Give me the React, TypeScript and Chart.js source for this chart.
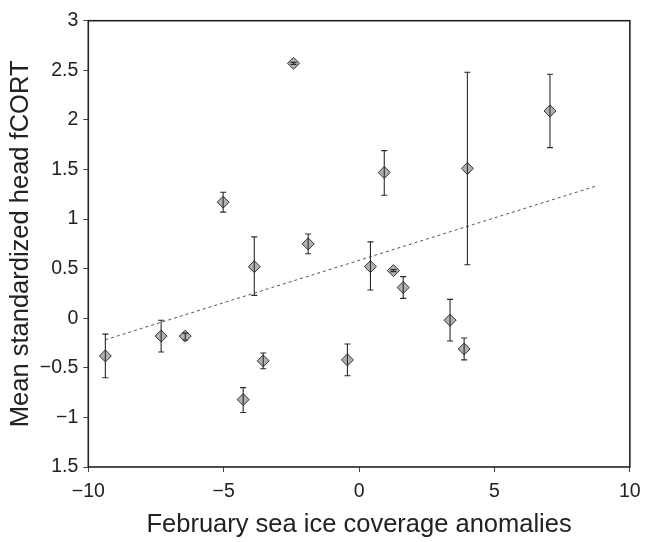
import React, { useEffect, useRef } from "react";
import { Chart, registerables } from "chart.js";

Chart.register(...registerables);

// February sea ice coverage anomalies (x) and mean standardized head fCORT (y)
const iceAnomaly = [-9.37, -7.31, -6.42, -5.02, -4.28, -3.87, -3.54, -2.42, -1.88, -0.43, 0.42, 0.93, 1.27, 1.63, 3.36, 3.88, 4.0, 7.05];
const meanFcort = [-0.38, -0.18, -0.18, 1.17, -0.82, 0.52, -0.43, 2.57, 0.75, -0.42, 0.52, 1.47, 0.48, 0.31, -0.02, -0.31, 1.51, 2.09];
const errHigh = [-0.16, -0.02, -0.15, 1.27, -0.7, 0.82, -0.35, 2.58, 0.85, -0.26, 0.77, 1.69, 0.49, 0.42, 0.19, -0.2, 2.48, 2.46];
const errLow = [-0.6, -0.34, -0.22, 1.07, -0.95, 0.23, -0.51, 2.56, 0.65, -0.58, 0.285, 1.24, 0.47, 0.2, -0.23, -0.42, 0.54, 1.72];

// regression line end points
const trendX = [-9.37, 8.78];
const trendY = [-0.217, 1.335];

const xTickValues = [-10, -5, 0, 5, 10];
const xTickLabels = ["\u221210", "\u22125", "0", "5", "10"];
const yTickValues = [-1.5, -1, -0.5, 0, 0.5, 1, 1.5, 2, 2.5, 3];
const yTickLabels = ["1.5", "\u22121", "\u22120.5", "0", "0.5", "1", "1.5", "2", "2.5", "3"];

const FONT = "'Liberation Sans', Arial, Helvetica, sans-serif";
const INK = "#222";

const errorBarPlugin = {
  id: "errorBars",
  afterDatasetsDraw(chart: any) {
    const xs = chart.scales.x;
    const ys = chart.scales.y;
    const ctx = chart.ctx;
    ctx.save();
    ctx.strokeStyle = "#2a2a2a";
    ctx.lineWidth = 1.1;
    for (let i = 0; i < iceAnomaly.length; i++) {
      const px = xs.getPixelForValue(iceAnomaly[i]);
      const top = ys.getPixelForValue(errHigh[i]);
      const bot = ys.getPixelForValue(errLow[i]);
      ctx.beginPath();
      ctx.moveTo(px, top);
      ctx.lineTo(px, bot);
      ctx.moveTo(px - 3, top);
      ctx.lineTo(px + 3, top);
      ctx.moveTo(px - 3, bot);
      ctx.lineTo(px + 3, bot);
      ctx.stroke();
    }
    ctx.restore();
  },
};

const framePlugin = {
  id: "frame",
  afterDraw(chart: any) {
    const { left, top, right, bottom } = chart.chartArea;
    const ctx = chart.ctx;
    ctx.save();
    ctx.strokeStyle = INK;
    ctx.lineWidth = 1.6;
    ctx.strokeRect(left, top, right - left, bottom - top);
    ctx.restore();
  },
};

export default function App() {
  const canvasRef = useRef<HTMLCanvasElement | null>(null);

  useEffect(() => {
    if (!canvasRef.current) return;
    const points = iceAnomaly.map((x, i) => ({ x, y: meanFcort[i] }));
    const trend = trendX.map((x, i) => ({ x, y: trendY[i] }));
    const chart = new Chart(canvasRef.current, {
      type: "scatter",
      data: {
        datasets: [
          {
            label: "fCORT",
            data: points,
            pointStyle: "rectRot",
            pointRadius: 6,
            pointBackgroundColor: "#b0b0b0",
            pointBorderColor: "#333",
            pointBorderWidth: 1,
            showLine: false,
          },
          {
            label: "trend",
            data: trend,
            showLine: true,
            borderColor: "#555",
            borderWidth: 1,
            borderDash: [3, 3],
            pointRadius: 0,
            fill: false,
          },
        ],
      },
      options: {
        animation: false,
        responsive: false,
        devicePixelRatio: 1,
        layout: { padding: { left: 8.65, right: 14.7, top: 20.7, bottom: 4.5 } },
        plugins: {
          legend: { display: false },
          tooltip: { enabled: false },
        },
        scales: {
          x: {
            type: "linear",
            min: -10,
            max: 10,
            afterBuildTicks: (s: any) => {
              s.ticks = xTickValues.map((v) => ({ value: v }));
            },
            border: { display: false },
            grid: { drawOnChartArea: false, drawTicks: true, tickLength: 5, color: "#444", lineWidth: 1 },
            ticks: {
              autoSkip: false,
              maxRotation: 0,
              padding: 8.3,
              color: INK,
              font: { family: FONT, size: 19.5, lineHeight: 1.2 },
              callback: (_v: any, i: number) => xTickLabels[i],
            },
            title: {
              display: true,
              text: "February sea ice coverage anomalies",
              color: INK,
              font: { family: FONT, size: 25.5, lineHeight: 1.0 },
              padding: { top: 0, bottom: 0 },
            },
          },
          y: {
            type: "linear",
            min: -1.5,
            max: 3,
            afterBuildTicks: (s: any) => {
              s.ticks = yTickValues.map((v) => ({ value: v }));
            },
            border: { display: false },
            grid: { drawOnChartArea: false, drawTicks: true, tickLength: 5, color: "#444", lineWidth: 1 },
            ticks: {
              autoSkip: false,
              padding: 5,
              color: INK,
              font: { family: FONT, size: 19.5 },
              callback: (_v: any, i: number) => yTickLabels[i],
            },
            title: {
              display: true,
              text: "Mean standardized head fCORT",
              color: INK,
              font: { family: FONT, size: 25.5, lineHeight: 1.0 },
              padding: { top: 0, bottom: 0.65 },
            },
          },
        },
      },
      plugins: [errorBarPlugin, framePlugin],
    });
    return () => chart.destroy();
  }, []);

  return (
    <div style={{ position: "fixed", left: 0, top: 0, width: 649, height: 542, background: "#fff" }}>
      <canvas ref={canvasRef} width={649} height={542} style={{ width: 649, height: 542 }} />
    </div>
  );
}
